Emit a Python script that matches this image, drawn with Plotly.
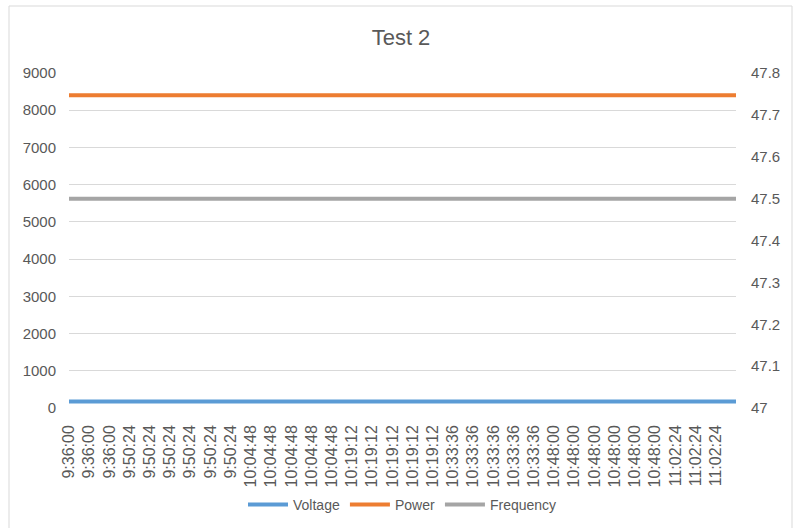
import plotly.graph_objects as go

# ---- data ----
time_labels = [
    "9:36:00", "9:36:00", "9:36:00",
    "9:50:24", "9:50:24", "9:50:24", "9:50:24", "9:50:24", "9:50:24",
    "10:04:48", "10:04:48", "10:04:48", "10:04:48", "10:04:48",
    "10:19:12", "10:19:12", "10:19:12", "10:19:12", "10:19:12",
    "10:33:36", "10:33:36", "10:33:36", "10:33:36", "10:33:36",
    "10:48:00", "10:48:00", "10:48:00", "10:48:00", "10:48:00", "10:48:00",
    "11:02:24", "11:02:24", "11:02:24",
    "",
]
voltage = [175, 175, 175, 175, 175, 175, 175, 175, 175, 175, 175, 175,
           175, 175, 175, 175, 175, 175, 175, 175, 175, 175, 175, 175,
           175, 175, 175, 175, 175, 175, 175, 175, 175, 175]
power = [8400, 8400, 8400, 8400, 8400, 8400, 8400, 8400, 8400, 8400, 8400,
         8400, 8400, 8400, 8400, 8400, 8400, 8400, 8400, 8400, 8400, 8400,
         8400, 8400, 8400, 8400, 8400, 8400, 8400, 8400, 8400, 8400, 8400, 8400]
frequency = [47.5, 47.5, 47.5, 47.5, 47.5, 47.5, 47.5, 47.5, 47.5, 47.5,
             47.5, 47.5, 47.5, 47.5, 47.5, 47.5, 47.5, 47.5, 47.5, 47.5,
             47.5, 47.5, 47.5, 47.5, 47.5, 47.5, 47.5, 47.5, 47.5, 47.5,
             47.5, 47.5, 47.5, 47.5]

x_idx = list(range(len(time_labels)))
label_pos = [i for i, t in enumerate(time_labels) if t]
label_txt = [t for t in time_labels if t]

FONT = "Liberation Sans, Arial, sans-serif"
GREY = "#595959"

fig = go.Figure()
fig.add_trace(go.Scatter(x=x_idx, y=voltage, name="Voltage", mode="lines",
                         line=dict(color="#5B9BD5", width=4)))
fig.add_trace(go.Scatter(x=x_idx, y=power, name="Power", mode="lines",
                         line=dict(color="#ED7D31", width=4)))
fig.add_trace(go.Scatter(x=x_idx, y=frequency, name="Frequency", mode="lines",
                         line=dict(color="#A5A5A5", width=4), yaxis="y2"))

W, H = 795, 528
L, R, T, B = 69, 59, 73, 120
pw, ph = W - L - R, H - T - B
bottom_px = T + ph

fig.update_layout(
    width=W, height=H,
    margin=dict(l=L, r=R, t=T, b=B, autoexpand=False),
    paper_bgcolor="white", plot_bgcolor="white",
    font=dict(family=FONT, size=15, color=GREY),
    title=dict(text="Test 2", xref="paper", x=(401 - L) / pw, xanchor="center",
               yref="container", y=1 - 37 / H, yanchor="middle",
               font=dict(family=FONT, size=22, color=GREY)),
    showlegend=True,
    legend=dict(orientation="h", x=0.5, xanchor="center",
                y=(bottom_px - 505) / ph, yanchor="middle",
                font=dict(family=FONT, size=14, color=GREY),
                itemwidth=40, tracegroupgap=0),
    xaxis=dict(range=[0, len(time_labels) - 1], tickmode="array",
               tickvals=label_pos, ticktext=label_txt, tickangle=-90,
               showgrid=False, zeroline=False, showline=False,
               ticks="", ticklabelstandoff=13, automargin=False,
               tickfont=dict(family=FONT, size=16, color=GREY)),
    yaxis=dict(range=[0, 9000], dtick=1000, showgrid=True,
               gridcolor="#D9D9D9", gridwidth=1, zeroline=False,
               showline=False, ticks="", ticklabelstandoff=12, automargin=False,
               tickfont=dict(family=FONT, size=15, color=GREY)),
    yaxis2=dict(range=[47, 47.8], dtick=0.1, overlaying="y", side="right",
                showgrid=False, zeroline=False, showline=False, ticks="",
                ticklabelstandoff=14, tickformat="~g", automargin=False,
                tickfont=dict(family=FONT, size=15, color=GREY)),
    shapes=[
        dict(type="rect", xref="paper", yref="paper",
             x0=(9 - L) / pw, x1=(792 - L) / pw,
             y0=(bottom_px - 535) / ph, y1=(bottom_px - 6) / ph,
             line=dict(color="#D9D9D9", width=1), layer="below"),
    ],
)

fig.write_html("out.html",
               config={"displayModeBar": False},
               post_script="document.body.style.margin='0';"
                           "document.body.style.overflow='hidden';")
